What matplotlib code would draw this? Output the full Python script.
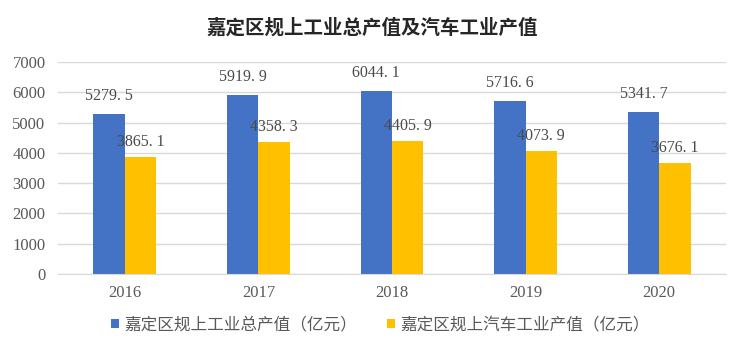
import matplotlib.pyplot as plt
import numpy as np

years = ["2016", "2017", "2018", "2019", "2020"]
total_output = [5279.5, 5919.9, 6044.1, 5716.6, 5341.7]
auto_output = [3865.1, 4358.3, 4405.9, 4073.9, 3676.1]
series_names = ["嘉定区规上工业总产值（亿元）", "嘉定区规上汽车工业产值（亿元）"]
title = "嘉定区规上工业总产值及汽车工业产值"

cjk = ["Noto Sans CJK SC", "DejaVu Sans"]
serif = "Liberation Serif"
grey = "#595959"

fig = plt.figure(figsize=(7.45, 3.5), dpi=100)
ax = fig.add_axes([58 / 745, 1 - 274 / 350, 668 / 745, 212 / 350])

x = np.arange(len(years))
w = 0.235
b1 = ax.bar(x - w / 2, total_output, w, color="#4472C4", label=series_names[0])
b2 = ax.bar(x + w / 2, auto_output, w, color="#FFC000", label=series_names[1])

for rect, v in zip(b1, total_output):
    ax.text(rect.get_x() + rect.get_width() / 2, v + 330, f"{v:.1f}".replace(".", ". "),
            ha="center", va="bottom", fontsize=11.5, family=serif, color="#4a4a4a")
for rect, v in zip(b2, auto_output):
    ax.text(rect.get_x() + rect.get_width() / 2, v + 220, f"{v:.1f}".replace(".", ". "),
            ha="center", va="bottom", fontsize=11.5, family=serif, color="#4a4a4a")

ax.set_xlim(-0.5, len(years) - 0.5)
ax.set_ylim(0, 7000)
ax.set_yticks(range(0, 7001, 1000))
ax.set_xticks(x)
ax.set_xticklabels(years)
ax.yaxis.grid(True, color="#D9D9D9", linewidth=1)
ax.set_axisbelow(True)
for s in ["top", "right", "left"]:
    ax.spines[s].set_visible(False)
ax.spines["bottom"].set_color("#D9D9D9")
ax.tick_params(length=0, labelcolor=grey, labelsize=12)
ax.tick_params(axis="x", pad=8)
ax.tick_params(axis="y", pad=9)
for lab in ax.get_xticklabels() + ax.get_yticklabels():
    lab.set_family(serif)

fig.text(0.5, 1 - 28 / 350, title, ha="center", va="center", fontsize=14,
         fontweight="bold", family=cjk, color="#262626")

leg = fig.legend(loc="center", bbox_to_anchor=(0.51, 1 - 325 / 350), ncol=2, frameon=False,
                 prop={"family": cjk, "size": 12}, handlelength=0.5, handleheight=0.5,
                 handletextpad=0.3, columnspacing=1.8)
for t in leg.get_texts():
    t.set_color(grey)

fig.savefig("out.png", dpi=100)
